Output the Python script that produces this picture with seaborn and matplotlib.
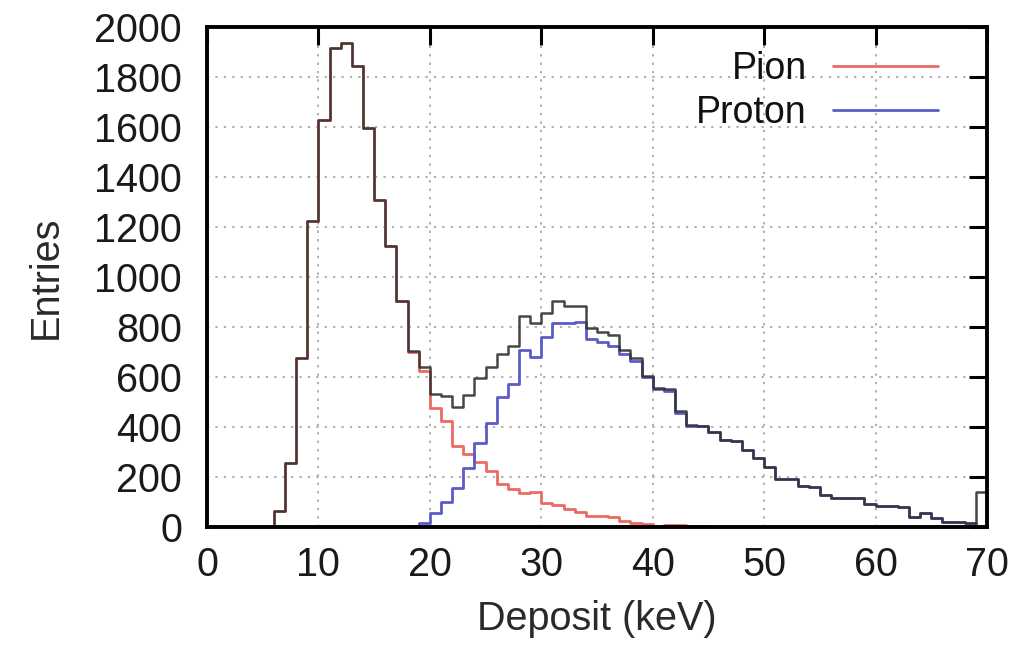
import numpy as np
import pandas as pd
import matplotlib
matplotlib.use("Agg")
import matplotlib.pyplot as plt
import seaborn as sns

# Bin edges (keV), 1 keV bins from 0 to 70
bin_edges = list(range(0, 71))

# Pion entries per bin (bin starting at 0,1,...,69)
pion = [0, 0, 0, 0, 0, 0, 65, 255, 675, 1225,
        1630, 1915, 1935, 1845, 1595, 1310, 1125, 905, 700, 625,
        475, 425, 325, 290, 260, 225, 170, 150, 135, 140,
        95, 88, 70, 60, 45, 42, 40, 22, 15, 10,
        5, 6, 8, 3, 2, 0, 0, 0, 0, 0,
        0, 0, 0, 0, 0, 0, 0, 0, 0, 0,
        0, 0, 0, 0, 0, 0, 0, 0, 0, 0]

# Proton entries per bin
proton = [0, 0, 0, 0, 0, 0, 0, 0, 0, 0,
          0, 0, 0, 0, 0, 0, 0, 0, 3, 15,
          55, 100, 155, 235, 335, 415, 520, 570, 708, 680,
          760, 815, 815, 820, 750, 738, 725, 692, 665, 598,
          552, 545, 455, 405, 402, 381, 348, 342, 308, 275,
          238, 192, 190, 163, 160, 128, 115, 115, 115, 90,
          82, 82, 80, 41, 55, 35, 21, 20, 15, 5]

# Total entries per bin (includes overflow in last bin)
total = [0, 0, 0, 0, 0, 0, 65, 255, 675, 1225,
         1630, 1915, 1935, 1845, 1595, 1310, 1125, 905, 703, 640,
         530, 525, 478, 528, 595, 640, 690, 722, 843, 815,
         855, 905, 882, 882, 795, 781, 768, 708, 675, 605,
         557, 550, 462, 408, 404, 381, 348, 342, 308, 275,
         238, 192, 190, 163, 160, 128, 115, 115, 115, 90,
         82, 82, 80, 41, 55, 35, 21, 20, 15, 138]

x_ticks = [0, 10, 20, 30, 40, 50, 60, 70]
y_ticks = [0, 200, 400, 600, 800, 1000, 1200, 1400, 1600, 1800, 2000]

sns.set_theme(style="white")
plt.rcParams["font.family"] = ["Liberation Sans", "DejaVu Sans"]

fig = plt.figure(figsize=(10.21, 6.51), dpi=100)
ax = fig.add_axes([0.2027, 0.1905, 0.764, 0.768])

edges = np.array(bin_edges, dtype=float)
df = pd.DataFrame({
    "deposit": (edges[:-1] + edges[1:]) / 2,
    "pion": np.array(pion, dtype=float),
    "proton": np.array(proton, dtype=float),
    "total": np.array(total, dtype=float),
})

sns.histplot(data=df, x="deposit", weights="pion", bins=bin_edges, element="step",
             fill=False, color="#ec6a64", linewidth=2.0, label="Pion", ax=ax)
sns.histplot(data=df, x="deposit", weights="proton", bins=bin_edges, element="step",
             fill=False, color="#5c5cc8", linewidth=2.0, label="Proton", ax=ax)
sns.histplot(data=df, x="deposit", weights="total", bins=bin_edges, element="step",
             fill=False, color="#333333", linewidth=1.8, alpha=0.9, ax=ax)

ax.set_xlim(0, 70)
ax.set_ylim(0, 2000)
ax.set_xticks(x_ticks)
ax.set_yticks(y_ticks)
ax.set_xticklabels([str(t) for t in x_ticks])
ax.set_yticklabels([str(t) for t in y_ticks])

ax.grid(True, linestyle=(0, (1.5, 4)), color="#999999", linewidth=1.1)
ax.set_axisbelow(True)

for s in ax.spines.values():
    s.set_visible(True)
    s.set_color("black")
    s.set_linewidth(2.8)

ax.tick_params(axis="both", which="major", direction="in", length=13, width=2.2,
               top=True, right=True, labelsize=28.5, colors="black")
ax.tick_params(axis="y", pad=18)
ax.tick_params(axis="x", pad=14)
for lab in ax.get_xticklabels() + ax.get_yticklabels():
    lab.set_color("#1a1a1a")

ax.set_xlabel("Deposit (keV)", fontsize=28.5, labelpad=11, color="#2a2a2a")
ax.set_ylabel("Entries", fontsize=28.5, labelpad=21, color="#2a2a2a")

lines = ax.get_lines()
handles = [l for l in lines if l.get_label() in ("Pion", "Proton")]
leg = ax.legend(handles=handles, labels=["Pion", "Proton"], loc="upper right",
                frameon=False, markerfirst=False, fontsize=27,
                handlelength=2.8, handletextpad=0.7, labelspacing=0.22,
                borderpad=0.0, borderaxespad=0.0,
                bbox_to_anchor=(0.937, 0.952))
for t in leg.get_texts():
    t.set_ha("right")
    t.set_color("#111111")
leg._legend_box.align = "right"

fig.savefig("out.png", dpi=100)
